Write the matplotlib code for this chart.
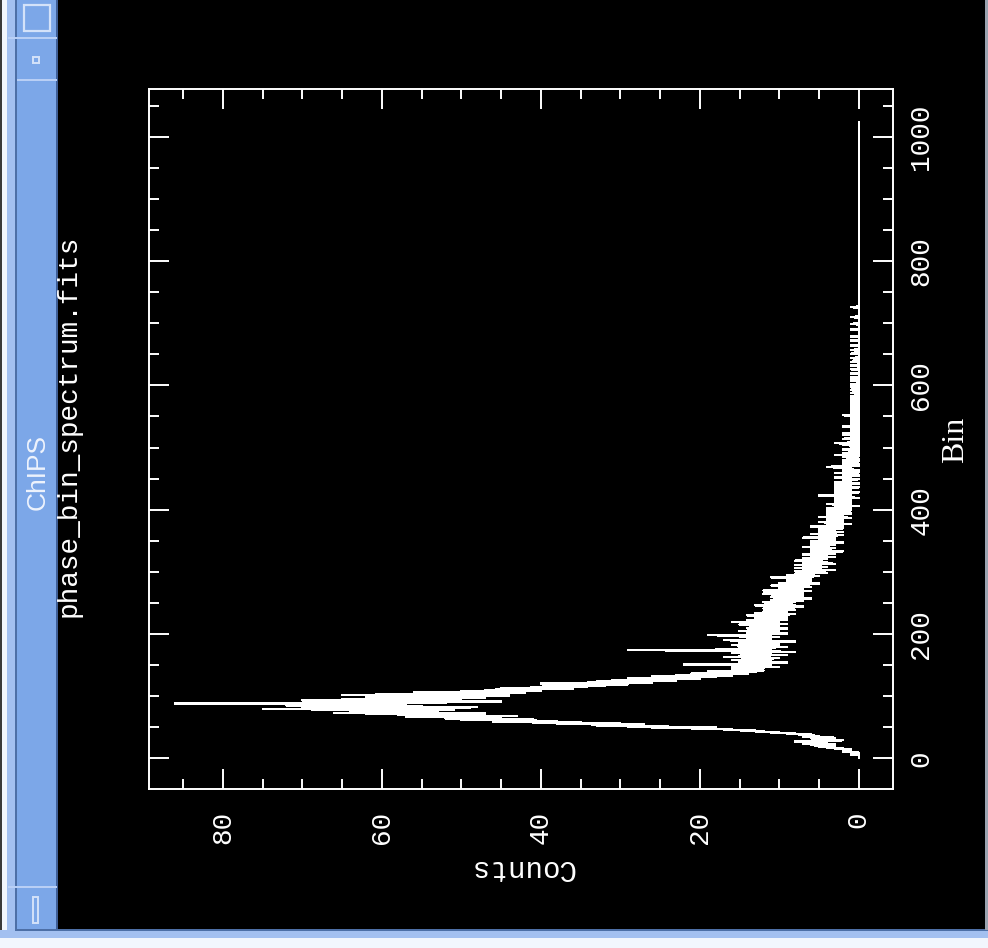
import numpy as np
import matplotlib
matplotlib.use("Agg")
import matplotlib.pyplot as plt
from matplotlib.patches import Rectangle
from matplotlib.ticker import MultipleLocator

# counts per spectral bin (bins 0..1023)
counts = [
    0, 0, 0, 0, 0, 0, 1, 0, 1, 0, 2, 1, 1, 2, 1, 3,
    2, 4, 3, 5, 4, 6, 3, 7, 5, 4, 6, 8, 3, 2, 5, 4,
    6, 3, 5, 7, 5, 7, 6, 9, 8, 11, 10, 13, 12, 15, 17, 16,
    20, 26, 18, 29, 24, 33, 27, 38, 30, 41, 35, 46, 38, 44, 50, 41,
    52, 45, 48, 57, 43, 55, 49, 62, 47, 66, 53, 60, 58, 64, 51, 75,
    59, 70, 48, 66, 55, 72, 61, 57, 86, 52, 68, 45, 63, 70, 50, 65,
    58, 47, 62, 51, 56, 44, 65, 49, 53, 42, 56, 45, 50, 40, 47, 43,
    36, 45, 38, 41, 32, 39, 35, 29, 40, 31, 26, 34, 28, 23, 31, 25,
    20, 29, 22, 18, 26, 16, 23, 19, 14, 21, 17, 13, 19, 12, 16, 14,
    15, 12, 16, 10, 13, 15, 11, 22, 14, 12, 9, 15, 13, 11, 16, 12,
    14, 10, 13, 17, 12, 15, 9, 14, 11, 13, 16, 8, 12, 14, 29, 13,
    11, 15, 12, 9, 14, 13, 16, 10, 12, 15, 11, 14, 8, 13, 17, 12,
    14, 11, 13, 10, 15, 12, 19, 11, 13, 9, 14, 12, 10, 15, 11, 13,
    12, 9, 14, 11, 13, 10, 12, 15, 9, 13, 11, 16, 10, 12, 14, 9,
    12, 10, 13, 11, 9, 12, 14, 10, 8, 11, 13, 9, 12, 10, 11, 8,
    10, 12, 9, 11, 7, 10, 13, 8, 11, 9, 10, 12, 8, 10, 7, 11,
    9, 6, 10, 8, 11, 9, 7, 10, 8, 12, 9, 7, 10, 6, 12, 8,
    9, 7, 10, 8, 6, 9, 11, 7, 8, 5, 10, 8, 7, 9, 6, 8,
    7, 9, 6, 11, 8, 5, 7, 9, 6, 8, 4, 7, 6, 8, 5, 3,
    7, 5, 8, 6, 4, 7, 5, 8, 6, 3, 7, 5, 4, 6, 8, 5,
    6, 4, 7, 5, 3, 6, 4, 5, 7, 3, 5, 6, 4, 2, 6, 5,
    4, 6, 3, 5, 7, 4, 5, 3, 6, 4, 5, 2, 4, 6, 3, 5,
    4, 3, 5, 7, 4, 3, 5, 2, 4, 6, 3, 4, 2, 5, 3, 4,
    3, 5, 2, 4, 3, 6, 2, 4, 3, 1, 4, 3, 5, 2, 3, 4,
    2, 4, 3, 1, 5, 3, 2, 4, 3, 2, 1, 4, 3, 2, 4, 1,
    3, 2, 4, 1, 3, 2, 0, 3, 2, 4, 1, 2, 3, 1, 2, 3,
    1, 3, 2, 0, 2, 3, 1, 5, 2, 1, 3, 2, 0, 2, 1, 3,
    2, 1, 2, 3, 0, 2, 1, 3, 1, 2, 0, 1, 3, 2, 1, 2,
    1, 0, 2, 1, 3, 1, 2, 0, 1, 2, 1, 3, 0, 1, 2, 1,
    0, 2, 1, 1, 3, 4, 1, 0, 2, 1, 0, 1, 2, 1, 0, 1,
    2, 1, 0, 1, 1, 2, 0, 1, 3, 1, 0, 2, 1, 0, 1, 0,
    1, 2, 0, 1, 0, 1, 1, 0, 2, 1, 0, 3, 1, 0, 1, 0,
    1, 0, 2, 1, 0, 1, 0, 1, 0, 2, 1, 2, 0, 1, 0, 1,
    0, 1, 0, 0, 1, 0, 2, 0, 1, 0, 0, 1, 0, 1, 0, 0,
    1, 0, 0, 1, 0, 1, 0, 0, 2, 0, 1, 0, 0, 1, 0, 0,
    0, 1, 0, 0, 0, 1, 0, 0, 1, 0, 0, 0, 1, 0, 0, 0,
    1, 0, 0, 0, 1, 0, 0, 1, 0, 0, 0, 0, 1, 0, 0, 0,
    0, 1, 0, 0, 0, 0, 1, 0, 0, 0, 1, 0, 0, 0, 0, 0,
    1, 0, 0, 0, 0, 1, 0, 0, 0, 0, 0, 1, 0, 0, 0, 0,
    0, 0, 1, 0, 0, 0, 0, 0, 1, 0, 0, 0, 0, 0, 1, 0,
    0, 0, 0, 0, 1, 0, 0, 0, 0, 0, 0, 1, 0, 0, 0, 0,
    0, 1, 0, 0, 0, 0, 0, 0, 1, 0, 0, 0, 0, 0, 0, 0,
    1, 0, 0, 0, 0, 0, 0, 1, 0, 0, 0, 0, 0, 0, 0, 0,
    0, 0, 1, 0, 0, 0, 0, 0, 0, 0, 0, 1, 0, 0, 0, 0,
    0, 0, 0, 0, 0, 0, 1, 0, 0, 0, 0, 0, 0, 0, 0, 0,
    0, 0, 0, 0, 0, 0, 1, 0, 0, 0, 0, 0, 0, 0, 0, 0,
    0, 0, 0, 0, 0, 0, 0, 0, 0, 0, 0, 0, 0, 0, 0, 0,
    0, 0, 0, 0, 0, 0, 0, 0, 0, 0, 0, 0, 0, 0, 0, 0,
    0, 0, 0, 0, 0, 0, 0, 0, 0, 0, 0, 0, 0, 0, 0, 0,
    0, 0, 0, 0, 0, 0, 0, 0, 0, 0, 0, 0, 0, 0, 0, 0,
    0, 0, 0, 0, 0, 0, 0, 0, 0, 0, 0, 0, 0, 0, 0, 0,
    0, 0, 0, 0, 0, 0, 0, 0, 0, 0, 0, 0, 0, 0, 0, 0,
    0, 0, 0, 0, 0, 0, 0, 0, 0, 0, 0, 0, 0, 0, 0, 0,
    0, 0, 0, 0, 0, 0, 0, 0, 0, 0, 0, 0, 0, 0, 0, 0,
    0, 0, 0, 0, 0, 0, 0, 0, 0, 0, 0, 0, 0, 0, 0, 0,
    0, 0, 0, 0, 0, 0, 0, 0, 0, 0, 0, 0, 0, 0, 0, 0,
    0, 0, 0, 0, 0, 0, 0, 0, 0, 0, 0, 0, 0, 0, 0, 0,
    0, 0, 0, 0, 0, 0, 0, 0, 0, 0, 0, 0, 0, 0, 0, 0,
    0, 0, 0, 0, 0, 0, 0, 0, 0, 0, 0, 0, 0, 0, 0, 0,
    0, 0, 0, 0, 0, 0, 0, 0, 0, 0, 0, 0, 0, 0, 0, 0,
    0, 0, 0, 0, 0, 0, 0, 0, 0, 0, 0, 0, 0, 0, 0, 0,
    0, 0, 0, 0, 0, 0, 0, 0, 0, 0, 0, 0, 0, 0, 0, 0,
    0, 0, 0, 0, 0, 0, 0, 0, 0, 0, 0, 0, 0, 0, 0, 0,
    0, 0, 0, 0, 0, 0, 0, 0, 0, 0, 0, 0, 0, 0, 0, 0,
]
bins = np.arange(len(counts))

count_ticks = [0, 20, 40, 60, 80]
bin_ticks = [0, 200, 400, 600, 800, 1000]

title = "phase_bin_spectrum.fits"
window_title = "ChIPS"
bin_label = "Bin"
count_label = "Counts"

plt.rcParams['font.family'] = ['Liberation Mono', 'DejaVu Sans Mono']

W, H = 988, 948
fig = plt.figure(figsize=(W / 100, H / 100), dpi=100)
fig.patch.set_facecolor("black")

# window frame (the screenshot is rotated by 90 degrees)
frame = fig.add_axes([0, 0, 1, 1])
frame.set_xlim(0, W)
frame.set_ylim(H, 0)
frame.axis("off")


def box(x, y, w, h, fc="none", ec="none", lw=0):
    frame.add_patch(Rectangle((x, y), w, h, facecolor=fc, edgecolor=ec, lw=lw))


bar_blue = "#7ca7e8"
light_blue = "#a3c0f0"
dark_blue = "#4d6fa6"
pale = "#f2f6fd"

box(0, 0, W, H, "black")
box(0, 0, 2, H, "#3a3a3a")
box(2, 0, 5, H, pale)
box(7, 0, 9, H, light_blue)
box(17, 0, 40, 930, bar_blue)
box(15, 0, 2, 930, dark_blue)
box(56, 0, 2, 930, "#3e5e96")
box(0, 930, W, 8, light_blue)
box(0, 938, W, 10, pale)
box(15, 929, W - 15, 2, dark_blue)
box(985, 0, 3, 930, "#9aa3b0")
# buttons on the title bar
box(8, 37, 49, 2, "#b9cff5")
box(17, 79, 40, 2, "#b9cff5")
box(24, 5, 26, 26, ec="#d4e2f9", lw=1.6)
box(33, 57, 6, 6, ec="#d4e2f9", lw=1.4)
box(8, 886, 49, 2, "#b9cff5")
box(33, 897, 5, 26, ec="#d4e2f9", lw=1.4)
frame.text(38, 472, window_title, rotation=90, ha="center", va="center",
           color="#eef3fd", fontsize=19, family=["Liberation Sans", "DejaVu Sans"])

# the plot itself
ax = fig.add_axes([149 / W, 1 - 789 / H, (893 - 149) / W, (789 - 89) / H])
ax.set_facecolor("black")
ax.plot(counts, bins, color="white", lw=1, antialiased=False)
ax.set_xlim(89.3, -4.3)
ax.set_ylim(-49.5, 1077)
ax.set_xticks(count_ticks)
ax.set_yticks(bin_ticks)
ax.xaxis.set_minor_locator(MultipleLocator(5))
ax.yaxis.set_minor_locator(MultipleLocator(50))

for s in ax.spines.values():
    s.set_color("white")
    s.set_linewidth(1.4)

ax.tick_params(which="both", direction="in", colors="white",
               top=True, bottom=True, left=True, right=True,
               labelleft=False, labelright=True, labelbottom=True, labeltop=False)
ax.tick_params(which="major", length=14.5, width=1.4)
ax.tick_params(which="minor", length=7.5, width=1.4)
ax.tick_params(axis="x", labelrotation=90, pad=16, labelsize=20)
ax.tick_params(axis="y", labelrotation=90, pad=11, labelsize=20)
for lbl in ax.get_yticklabels():
    lbl.set_va("center")

frame.text(69, 426, title, rotation=90, ha="center", va="center",
           color="white", fontsize=20)
frame.text(522, 868, count_label, rotation=180, ha="center", va="center",
           color="white", fontsize=21)
frame.text(956, 440, bin_label, rotation=90, ha="center", va="center",
           color="white", fontsize=23, family=["Liberation Serif", "DejaVu Serif"])

fig.savefig("out.png", dpi=100, facecolor=fig.get_facecolor())
